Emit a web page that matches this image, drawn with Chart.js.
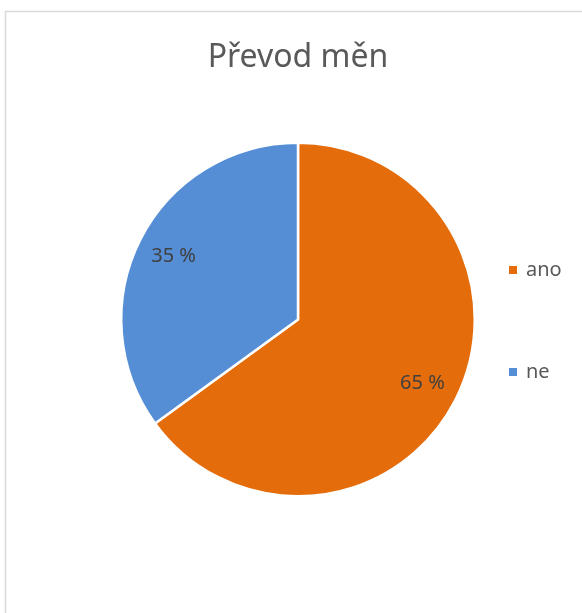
<!DOCTYPE html>
<html>
<head>
<meta charset="utf-8">
<script src="https://cdn.jsdelivr.net/npm/chart.js@4/dist/chart.umd.min.js"></script>
<style>
html,body{margin:0;padding:0;background:#fff;}
#wrap{width:582px;height:613px;position:relative;}
</style>
</head>
<body>
<div id="wrap"><canvas id="c" width="582" height="613"></canvas></div>
<script>
const titleText = "Převod měn";
const categories = ["ano", "ne"];
const values = [65, 35];
const colors = ["#E46C0A", "#558ED5"];
const FONT = "'Noto Sans', 'Open Sans', sans-serif";

const framePlugin = {
  id: 'frame',
  beforeDraw(chart) {
    const ctx = chart.ctx;
    ctx.save();
    ctx.fillStyle = '#fff';
    ctx.fillRect(0, 0, chart.width, chart.height);
    ctx.strokeStyle = '#D9D9D9';
    ctx.lineWidth = 1.5;
    ctx.strokeRect(5.5, 11.5, 800, 800);
    ctx.restore();
  }
};

const labelPlugin = {
  id: 'sliceLabels',
  afterDatasetsDraw(chart) {
    const ctx = chart.ctx;
    const meta = chart.getDatasetMeta(0);
    ctx.save();
    ctx.font = "20px " + FONT;
    ctx.fillStyle = '#404040';
    ctx.textAlign = 'center';
    ctx.textBaseline = 'middle';
    meta.data.forEach((arc, i) => {
      const mid = (arc.startAngle + arc.endAngle) / 2;
      const r = arc.outerRadius * 0.79;
      const x = arc.x + Math.cos(mid) * r;
      const y = arc.y + Math.sin(mid) * r;
      ctx.fillText(values[i] + " %", x, y);
    });
    // legend
    const legendY = [270, 372];
    ctx.textAlign = 'left';
    categories.forEach((c, i) => {
      ctx.fillStyle = colors[i];
      ctx.fillRect(509, legendY[i] - 4, 8, 8);
      ctx.fillStyle = '#595959';
      ctx.fillText(c, 526, legendY[i]);
    });
    ctx.restore();
  }
};

new Chart(document.getElementById('c'), {
  type: 'pie',
  data: {
    labels: categories,
    datasets: [{
      data: values,
      backgroundColor: colors,
      borderColor: '#ffffff',
      borderWidth: 2.5
    }]
  },
  options: {
    responsive: false,
    animation: false,
    layout: { padding: { left: 120, right: 106, top: 0, bottom: 115 } },
    plugins: {
      legend: { display: false },
      tooltip: { enabled: false },
      title: {
        display: true,
        text: titleText,
        color: '#595959',
        font: { family: FONT, size: 32, weight: 'normal', lineHeight: 1.2 },
        padding: { top: 39, bottom: 63.6 }
      }
    }
  },
  plugins: [framePlugin, labelPlugin]
});
</script>
</body>
</html>
